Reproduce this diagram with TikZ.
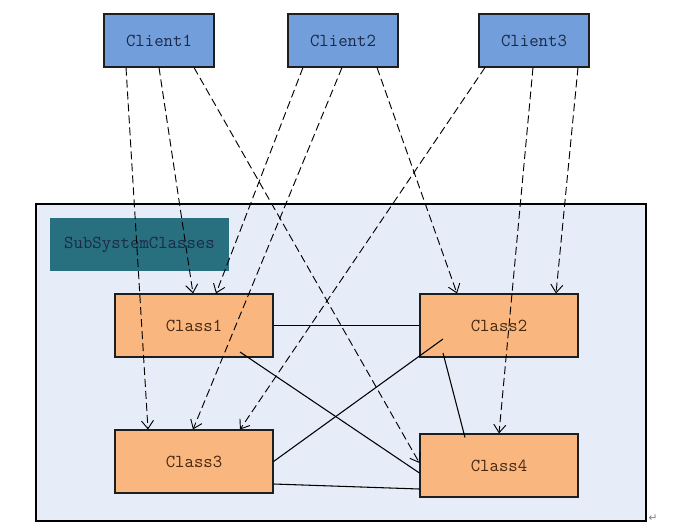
\documentclass[tikz,border=0pt]{standalone}
\usepackage{fontspec}
\newfontfamily\symfont{DejaVu Sans}
\usetikzlibrary{arrows.meta,calc}
\definecolor{clientblue}{RGB}{114,159,220}
\definecolor{classorange}{RGB}{249,182,126}
\definecolor{contbg}{RGB}{230,237,248}
\definecolor{labelteal}{RGB}{40,112,128}
\definecolor{navytext}{RGB}{28,40,70}
\definecolor{browntext}{RGB}{70,38,14}
\definecolor{edgegray}{RGB}{30,30,30}
\tikzset{
  boxfont/.style={font=\ttfamily\fontsize{13.7pt}{15pt}\selectfont},
  clientbox/.style={boxfont, draw=edgegray, line width=0.8pt, fill=clientblue, minimum width=82.5pt, minimum height=39.75pt, inner sep=0pt, text=navytext},
  classbox/.style={boxfont, draw=edgegray, line width=0.8pt, fill=classorange, minimum width=118.5pt, minimum height=47.25pt, inner sep=0pt, text=browntext},
  container/.style={draw=black, line width=1pt, fill=contbg, minimum width=457.5pt, minimum height=237.75pt, inner sep=0pt},
  labelbox/.style={boxfont, fill=labelteal, minimum width=134.25pt, minimum height=39.75pt, inner sep=0pt, text=navytext},
  dep/.style={draw=black, line width=0.7pt, dash pattern=on 6pt off 3pt, -{Straight Barb[length=6pt,width=9pt,line width=0.7pt]}},
  assoc/.style={draw=black, line width=0.8pt}
}
\begin{document}
\begin{tikzpicture}[x=0.75pt,y=-0.75pt]
\useasboundingbox (0,0) rectangle (679,526);
\fill[white] (0,0) rectangle (679,526);
% container and label
\node[container] (cont) at (341,362.5) {};
\node[labelbox] (lbl) at (139.5,244.5) {SubSystemClasses};
\node[font=\symfont\fontsize{8pt}{8pt}\selectfont, text=gray, inner sep=0pt] (pmark) at (653,518) {↵};
% clients
\node[clientbox] (c1) at (159,40.5) {Client1};
\node[clientbox] (c2) at (343,40.5) {Client2};
\node[clientbox] (c3) at (534,40.5) {Client3};
% classes
\node[classbox] (k1) at (194,325.5) {Class1};
\node[classbox] (k2) at (499,325.5) {Class2};
\node[classbox] (k3) at (194,461.5) {Class3};
\node[classbox] (k4) at (499,465.5) {Class4};
% solid associations
\draw[assoc] (k1.east) -- (k2.west);
\draw[assoc] ($(k1.center)+(46,26.5)$) -- ($(k4.west)+(0,7.5)$);
\draw[assoc] ($(k2.center)+(-56,13.5)$) -- (k3.east);
\draw[assoc] ($(k2.center)+(-56,27.5)$) -- ($(k4.north)+(-34,4)$);
\draw[assoc] ($(k3.east)+(0,22.5)$) -- ($(k4.west)+(0,23.5)$);
% dashed dependencies
\draw[dep] ($(c1.south)+(-33,0)$) -- ($(k3.north)+(-46,0)$);
\draw[dep] ($(c1.south)+(0,0)$) -- ($(k1.north)+(-1,0)$);
\draw[dep] ($(c1.south)+(35,0)$) -- ($(k4.west)+(0,-2.5)$);
\draw[dep] ($(c2.south)+(-40,0)$) -- ($(k1.north)+(22,0)$);
\draw[dep] ($(c2.south)+(-1,0)$) -- ($(k3.north)+(-1,0)$);
\draw[dep] ($(c2.south)+(34,0)$) -- ($(k2.north)+(-42,0)$);
\draw[dep] ($(c3.south)+(-49,0)$) -- ($(k3.north)+(46,0)$);
\draw[dep] ($(c3.south)+(-1,0)$) -- ($(k4.north)+(0,0)$);
\draw[dep] ($(c3.south)+(44,0)$) -- ($(k2.north)+(57,0)$);
\end{tikzpicture}
\end{document}
